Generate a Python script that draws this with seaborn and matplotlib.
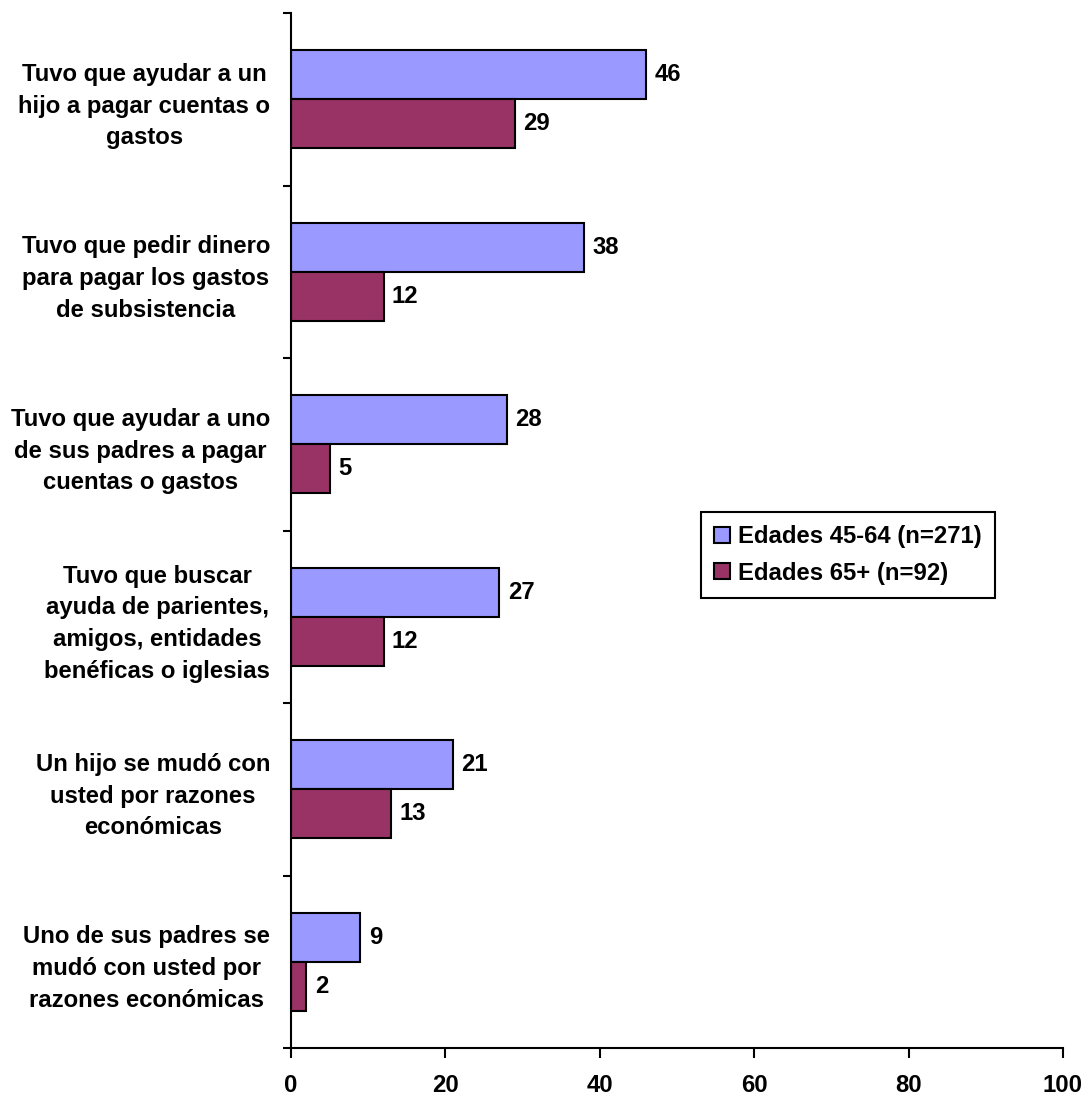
import matplotlib
matplotlib.use("Agg")
import matplotlib.pyplot as plt
import seaborn as sns
import pandas as pd
from matplotlib.ticker import FixedLocator

categories = [
    "Tuvo que ayudar a un\nhijo a pagar cuentas o\ngastos",
    "Tuvo que pedir dinero\npara pagar los gastos\nde subsistencia",
    "Tuvo que ayudar a uno\nde sus padres a pagar\ncuentas o gastos",
    "Tuvo que buscar\nayuda de parientes,\namigos, entidades\nbenéficas o iglesias",
    "Un hijo se mudó con\nusted por razones\neconómicas",
    "Uno de sus padres se\nmudó con usted por\nrazones económicas",
]
series_names = ["Edades 45-64 (n=271)", "Edades 65+ (n=92)"]
values_45_64 = [46, 38, 28, 27, 21, 9]
values_65 = [29, 12, 5, 12, 13, 2]
x_ticks = [0, 20, 40, 60, 80, 100]

colors = ["#9999FF", "#993366"]
FS = 17.2
LW = 1.5

sns.set_style("white")
plt.rcParams["font.family"] = ["Liberation Sans", "DejaVu Sans"]
plt.rcParams["font.weight"] = "bold"
for key in ["text.color", "axes.labelcolor", "xtick.color", "ytick.color"]:
    plt.rcParams[key] = "black"

df = pd.DataFrame({
    "categoria": categories * 2,
    "valor": values_45_64 + values_65,
    "grupo": [series_names[0]] * 6 + [series_names[1]] * 6,
})

fig = plt.figure(figsize=(10.86, 10.96), dpi=100)
ax = fig.add_axes([291 / 1086, 1 - 1048 / 1096, (1063 - 291) / 1086, (1048 - 13) / 1096])

sns.barplot(data=df, y="categoria", x="valor", hue="grupo", orient="h",
            palette=colors, width=0.57, edgecolor="black", linewidth=LW,
            saturation=1, ax=ax, errorbar=None, legend=True)

for cont in ax.containers:
    ax.bar_label(cont, padding=6, fontsize=FS, fontweight="bold", color="black")

ax.set_xlim(0, 100)
ax.set_ylim(5.5, -0.5)
ax.set_xticks(x_ticks)
ax.set_xticklabels([str(t) for t in x_ticks], fontsize=FS, fontweight="bold")
ax.set_yticks(range(len(categories)))
ax.set_yticklabels(categories, fontsize=FS, fontweight="bold",
                   multialignment="center", linespacing=1.48)
ax.yaxis.set_minor_locator(FixedLocator([i - 0.5 for i in range(len(categories) + 1)]))
ax.tick_params(axis="y", which="major", left=False, length=0, pad=15)
ax.tick_params(axis="y", which="minor", left=True, length=6, width=LW,
               color="black", direction="out")
ax.tick_params(axis="x", which="major", bottom=True, length=7, width=LW,
               color="black", direction="out", pad=12)
ax.set_xlabel("")
ax.set_ylabel("")

for side in ["top", "right"]:
    ax.spines[side].set_visible(False)
for side in ["left", "bottom"]:
    ax.spines[side].set_linewidth(LW)
    ax.spines[side].set_color("black")

leg = ax.legend(loc="center left", bbox_to_anchor=((701 - 291) / 772, 1 - (555 - 13) / 1035),
                frameon=True, fancybox=False, framealpha=1,
                prop={"size": FS, "weight": "bold"},
                handlelength=0.65, handleheight=0.65, handletextpad=0.35,
                borderpad=0.55, labelspacing=0.55, borderaxespad=0)
leg.get_frame().set_linewidth(LW)
leg.get_frame().set_edgecolor("black")
for t in leg.get_texts():
    t.set_color("black")

fig.savefig("out.png", dpi=100)
